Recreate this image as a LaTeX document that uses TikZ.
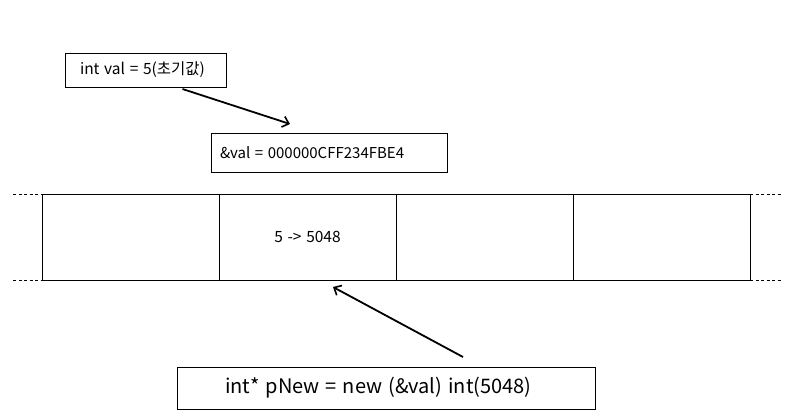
\documentclass[tikz,border=0pt]{standalone}
\usepackage{fontspec}
\setmainfont[WordSpace=1.35]{Noto Sans CJK KR}
\usepackage{tikz}
\usetikzlibrary{arrows.meta,positioning}
\tikzstyle{codebox} = [rectangle, draw=black, line width=0.9pt, inner ysep=0pt, outer sep=0pt]
\tikzstyle{cell} = [rectangle, draw=black, line width=0.9pt, minimum width=177pt, minimum height=86pt, inner sep=0pt, outer sep=0pt]
\tikzstyle{arrow} = [line width=1.8pt, -{Straight Barb[length=6pt,width=11pt,line width=1.6pt]}]
\tikzstyle{bound} = [line width=0.9pt, dash pattern=on 3pt off 2.5pt]

\begin{document}
\begin{tikzpicture}[x=1pt, y=-1pt]
\useasboundingbox (0,0) rectangle (793,420);
% dashed memory bounds
\draw[bound] (13,194) -- (782,194);
\draw[bound] (13,280) -- (782,280);
% memory cells
\node (cell1) [cell] at (130.5,237) {};
\node (cell2) [cell, right=0pt of cell1] {\fontsize{15.5pt}{17pt}\selectfont 5 -> 5048\hspace{14pt}};
\node (cell3) [cell, right=0pt of cell2] {};
\node (cell4) [cell, right=0pt of cell3] {};

\node (valbox) [codebox, inner xsep=15pt, minimum height=34pt] at (145.5,70) {\makebox[131pt][l]{\fontsize{15.5pt}{17pt}\selectfont int val = 5(초기값)}};
\node (addrbox) [codebox, inner xsep=9pt, minimum height=39pt] at (329,152.5) {\makebox[218pt][l]{\fontsize{15pt}{17pt}\selectfont \&val = 000000CFF234FBE4}};
\node (newbox) [codebox, inner xsep=48pt, minimum height=42pt] at (386,388) {\makebox[322pt][l]{\fontsize{20pt}{24pt}\selectfont int* pNew = new (\&val) int(5048)}};

\coordinate (valtip) at (290,124);
\coordinate (celltip) at (333,287);
\draw[arrow] ([xshift=37pt,yshift=-2pt]valbox.south) -- (valtip);
\draw[arrow] ([xshift=77pt,yshift=10pt]newbox.north) -- (celltip);
\end{tikzpicture}
\end{document}
